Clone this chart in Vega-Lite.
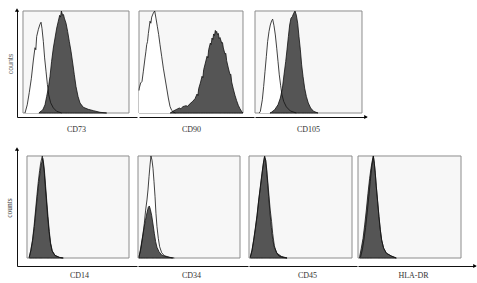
{
"$schema": "https://vega.github.io/schema/vega-lite/v6.json",
"background": "#ffffff",
"padding": {"left": 5, "top": 8, "right": 0, "bottom": 0},
"config": {
  "view": {"stroke": null},
  "axis": {"grid": false, "ticks": false, "labels": false, "domainColor": "#111111", "domainWidth": 1, "titleFont": "Liberation Serif", "titleFontSize": 8, "titleFontWeight": "normal", "titleColor": "#333333"}
},
"datasets": {
  "CD73_iso": [{"intensity":1.9,"count":0},{"intensity":4.0,"count":0.08},{"intensity":5.9,"count":0.2},{"intensity":7.9,"count":0.34},{"intensity":9.7,"count":0.51},{"intensity":11.3,"count":0.64},{"intensity":12.1,"count":0.62},{"intensity":12.9,"count":0.75},{"intensity":14.5,"count":0.82},{"intensity":16.0,"count":0.87},{"intensity":17.0,"count":0.89},{"intensity":17.9,"count":0.83},{"intensity":19.2,"count":0.7},{"intensity":20.4,"count":0.54},{"intensity":21.7,"count":0.41},{"intensity":23.0,"count":0.28},{"intensity":24.2,"count":0.18},{"intensity":26.1,"count":0.1},{"intensity":28.6,"count":0.05},{"intensity":31.8,"count":0.016},{"intensity":36.5,"count":0}],
  "CD73_pos": [{"intensity":15,"count":0},{"intensity":16.0,"count":0.01},{"intensity":18.6,"count":0.03},{"intensity":20.75,"count":0.08},{"intensity":22.3,"count":0.16},{"intensity":23.9,"count":0.245},{"intensity":25.5,"count":0.36},{"intensity":27.0,"count":0.507},{"intensity":28.6,"count":0.637},{"intensity":30.2,"count":0.735},{"intensity":31.8,"count":0.833},{"intensity":33.3,"count":0.9},{"intensity":34.6,"count":0.958},{"intensity":35.4,"count":0.94},{"intensity":36.2,"count":1.0},{"intensity":37.4,"count":0.958},{"intensity":38.2,"count":0.965},{"intensity":39.0,"count":0.93},{"intensity":40.6,"count":0.88},{"intensity":42.1,"count":0.8},{"intensity":43.7,"count":0.7},{"intensity":45.3,"count":0.605},{"intensity":46.9,"count":0.49},{"intensity":48.4,"count":0.376},{"intensity":50.0,"count":0.26},{"intensity":51.9,"count":0.163},{"intensity":53.8,"count":0.098},{"intensity":56.9,"count":0.056},{"intensity":61.6,"count":0.036},{"intensity":66.4,"count":0.023},{"intensity":72.6,"count":0.007},{"intensity":78.9,"count":0}],
  "CD90_iso": [{"intensity":0,"count":0.22},{"intensity":0.3,"count":0.245},{"intensity":1.6,"count":0.294},{"intensity":2.9,"count":0.31},{"intensity":4.2,"count":0.41},{"intensity":5.8,"count":0.54},{"intensity":6.6,"count":0.6},{"intensity":7.4,"count":0.67},{"intensity":8.2,"count":0.7},{"intensity":9.0,"count":0.78},{"intensity":10.6,"count":0.9},{"intensity":11.4,"count":0.88},{"intensity":12.2,"count":0.94},{"intensity":13.8,"count":0.98},{"intensity":15.1,"count":1.0},{"intensity":16.3,"count":0.93},{"intensity":17.6,"count":0.85},{"intensity":18.9,"count":0.77},{"intensity":20.2,"count":0.67},{"intensity":21.8,"count":0.556},{"intensity":23.4,"count":0.44},{"intensity":25.0,"count":0.343},{"intensity":26.6,"count":0.245},{"intensity":28.2,"count":0.147},{"intensity":29.8,"count":0.065},{"intensity":31.4,"count":0.026},{"intensity":33.0,"count":0.01},{"intensity":35.0,"count":0}],
  "CD90_pos": [{"intensity":30,"count":0},{"intensity":32.4,"count":0.016},{"intensity":35.6,"count":0.033},{"intensity":38.8,"count":0.049},{"intensity":40.4,"count":0.04},{"intensity":42.0,"count":0.062},{"intensity":45.2,"count":0.072},{"intensity":46.8,"count":0.065},{"intensity":48.4,"count":0.085},{"intensity":51.6,"count":0.114},{"intensity":53.85,"count":0.14},{"intensity":55.8,"count":0.186},{"intensity":56.6,"count":0.17},{"intensity":57.4,"count":0.239},{"intensity":59.0,"count":0.294},{"intensity":60.6,"count":0.36},{"intensity":61.4,"count":0.345},{"intensity":62.2,"count":0.425},{"intensity":63.8,"count":0.49},{"intensity":65.4,"count":0.556},{"intensity":66.2,"count":0.54},{"intensity":67.0,"count":0.621},{"intensity":68.6,"count":0.686},{"intensity":69.4,"count":0.67},{"intensity":70.2,"count":0.735},{"intensity":71.0,"count":0.72},{"intensity":71.8,"count":0.775},{"intensity":72.6,"count":0.76},{"intensity":73.4,"count":0.81},{"intensity":74.0,"count":0.79},{"intensity":74.7,"count":0.8},{"intensity":75.5,"count":0.77},{"intensity":76.3,"count":0.78},{"intensity":77.1,"count":0.73},{"intensity":77.9,"count":0.74},{"intensity":79.5,"count":0.686},{"intensity":80.3,"count":0.69},{"intensity":81.1,"count":0.637},{"intensity":82.7,"count":0.578},{"intensity":83.5,"count":0.585},{"intensity":84.3,"count":0.513},{"intensity":85.9,"count":0.441},{"intensity":87.5,"count":0.376},{"intensity":88.3,"count":0.38},{"intensity":89.1,"count":0.304},{"intensity":90.7,"count":0.235},{"intensity":92.3,"count":0.173},{"intensity":93.9,"count":0.121},{"intensity":95.5,"count":0.075},{"intensity":97.1,"count":0.042},{"intensity":99.0,"count":0.01},{"intensity":100,"count":0}],
  "CD105_iso": [{"intensity":4,"count":0},{"intensity":5.0,"count":0.016},{"intensity":6.85,"count":0.13},{"intensity":8.1,"count":0.26},{"intensity":9.35,"count":0.407},{"intensity":10.6,"count":0.553},{"intensity":11.8,"count":0.7},{"intensity":13.1,"count":0.8},{"intensity":14.3,"count":0.863},{"intensity":15.6,"count":0.905},{"intensity":16.5,"count":0.92},{"intensity":17.76,"count":0.855},{"intensity":19.0,"count":0.765},{"intensity":20.3,"count":0.635},{"intensity":21.5,"count":0.505},{"intensity":22.7,"count":0.374},{"intensity":24.0,"count":0.267},{"intensity":25.2,"count":0.179},{"intensity":26.8,"count":0.114},{"intensity":29.3,"count":0.06},{"intensity":33.0,"count":0.02},{"intensity":38.6,"count":0}],
  "CD105_pos": [{"intensity":14,"count":0},{"intensity":15.3,"count":0.007},{"intensity":18.4,"count":0.032},{"intensity":21.5,"count":0.081},{"intensity":23.7,"count":0.147},{"intensity":25.6,"count":0.244},{"intensity":27.1,"count":0.374},{"intensity":28.7,"count":0.505},{"intensity":29.9,"count":0.619},{"intensity":31.2,"count":0.749},{"intensity":32.4,"count":0.863},{"intensity":33.6,"count":0.928},{"intensity":34.9,"count":0.945},{"intensity":36.1,"count":0.977},{"intensity":37.4,"count":1.0},{"intensity":38.6,"count":0.96},{"intensity":39.9,"count":0.88},{"intensity":41.1,"count":0.749},{"intensity":42.4,"count":0.619},{"intensity":43.6,"count":0.472},{"intensity":44.9,"count":0.358},{"intensity":46.4,"count":0.244},{"intensity":48.0,"count":0.163},{"intensity":49.8,"count":0.098},{"intensity":52.0,"count":0.049},{"intensity":54.8,"count":0.016},{"intensity":58.9,"count":0}],
  "CD14_iso": [{"intensity":2.0,"count":0.005},{"intensity":3.6,"count":0.07},{"intensity":5.3,"count":0.17},{"intensity":6.9,"count":0.31},{"intensity":8.5,"count":0.48},{"intensity":9.8,"count":0.62},{"intensity":11.1,"count":0.75},{"intensity":12.4,"count":0.86},{"intensity":13.4,"count":0.93},{"intensity":14.3,"count":0.97},{"intensity":15.0,"count":1.0},{"intensity":15.8,"count":0.95},{"intensity":16.8,"count":0.86},{"intensity":17.8,"count":0.72},{"intensity":18.9,"count":0.58},{"intensity":20.2,"count":0.41},{"intensity":21.6,"count":0.26},{"intensity":22.9,"count":0.15},{"intensity":24.6,"count":0.07},{"intensity":27.3,"count":0.025},{"intensity":31.5,"count":0.006},{"intensity":35,"count":0}],
  "CD14_pos": [{"intensity":2.3,"count":0.007},{"intensity":3.9,"count":0.078},{"intensity":5.6,"count":0.176},{"intensity":7.2,"count":0.307},{"intensity":8.8,"count":0.47},{"intensity":10.1,"count":0.6},{"intensity":11.4,"count":0.73},{"intensity":12.7,"count":0.83},{"intensity":13.7,"count":0.902},{"intensity":14.7,"count":0.944},{"intensity":15.4,"count":0.977},{"intensity":16.3,"count":0.928},{"intensity":17.3,"count":0.83},{"intensity":18.3,"count":0.699},{"intensity":19.3,"count":0.569},{"intensity":20.6,"count":0.405},{"intensity":21.9,"count":0.258},{"intensity":23.2,"count":0.144},{"intensity":24.8,"count":0.069},{"intensity":27.5,"count":0.026},{"intensity":31.7,"count":0.007},{"intensity":35.6,"count":0}],
  "CD34_iso": [{"intensity":1.0,"count":0.013},{"intensity":2.9,"count":0.095},{"intensity":4.6,"count":0.21},{"intensity":6.2,"count":0.34},{"intensity":7.5,"count":0.47},{"intensity":8.8,"count":0.569},{"intensity":9.8,"count":0.667},{"intensity":10.8,"count":0.797},{"intensity":11.8,"count":0.912},{"intensity":12.7,"count":1.0},{"intensity":13.7,"count":0.96},{"intensity":14.7,"count":0.88},{"intensity":15.7,"count":0.748},{"intensity":16.7,"count":0.601},{"intensity":17.6,"count":0.438},{"intensity":18.6,"count":0.307},{"intensity":19.9,"count":0.193},{"intensity":21.2,"count":0.111},{"intensity":23.2,"count":0.052},{"intensity":25.8,"count":0.023},{"intensity":30.7,"count":0.007},{"intensity":35.6,"count":0}],
  "CD34_pos": [{"intensity":1.0,"count":0.007},{"intensity":2.3,"count":0.078},{"intensity":3.9,"count":0.176},{"intensity":5.6,"count":0.275},{"intensity":7.2,"count":0.366},{"intensity":8.8,"count":0.444},{"intensity":10.1,"count":0.497},{"intensity":11.1,"count":0.51},{"intensity":12.1,"count":0.477},{"intensity":13.4,"count":0.418},{"intensity":14.7,"count":0.333},{"intensity":16.0,"count":0.242},{"intensity":17.3,"count":0.16},{"intensity":18.6,"count":0.105},{"intensity":20.6,"count":0.062},{"intensity":23.2,"count":0.029},{"intensity":27.5,"count":0.013},{"intensity":34,"count":0}],
  "CD45_iso": [{"intensity":1.3,"count":0.01},{"intensity":2.9,"count":0.07},{"intensity":4.5,"count":0.17},{"intensity":6.1,"count":0.28},{"intensity":7.8,"count":0.41},{"intensity":9.4,"count":0.56},{"intensity":11.0,"count":0.69},{"intensity":12.6,"count":0.82},{"intensity":13.9,"count":0.92},{"intensity":15.0,"count":0.99},{"intensity":16.2,"count":0.96},{"intensity":17.2,"count":0.87},{"intensity":18.3,"count":0.74},{"intensity":19.4,"count":0.61},{"intensity":20.6,"count":0.47},{"intensity":21.9,"count":0.36},{"intensity":23.0,"count":0.24},{"intensity":24.6,"count":0.12},{"intensity":26.6,"count":0.055},{"intensity":29,"count":0.02},{"intensity":33,"count":0.005},{"intensity":37,"count":0}],
  "CD45_pos": [{"intensity":1.3,"count":0.013},{"intensity":2.9,"count":0.078},{"intensity":4.5,"count":0.176},{"intensity":6.1,"count":0.291},{"intensity":7.8,"count":0.42},{"intensity":9.4,"count":0.569},{"intensity":11.0,"count":0.699},{"intensity":12.6,"count":0.83},{"intensity":13.9,"count":0.928},{"intensity":15.2,"count":1.0},{"intensity":16.2,"count":0.954},{"intensity":17.1,"count":0.856},{"intensity":18.1,"count":0.732},{"intensity":19.1,"count":0.601},{"intensity":20.4,"count":0.438},{"intensity":21.7,"count":0.301},{"intensity":23.0,"count":0.183},{"intensity":24.6,"count":0.105},{"intensity":27.2,"count":0.046},{"intensity":31.4,"count":0.016},{"intensity":36.9,"count":0}],
  "HLADR_iso": [{"intensity":2.5,"count":0.01},{"intensity":4.2,"count":0.08},{"intensity":5.8,"count":0.18},{"intensity":7.4,"count":0.3},{"intensity":9.0,"count":0.45},{"intensity":10.5,"count":0.6},{"intensity":11.9,"count":0.75},{"intensity":13.1,"count":0.87},{"intensity":14.2,"count":0.96},{"intensity":14.9,"count":1.0},{"intensity":15.8,"count":0.93},{"intensity":16.7,"count":0.84},{"intensity":17.7,"count":0.71},{"intensity":19.0,"count":0.56},{"intensity":20.3,"count":0.41},{"intensity":21.6,"count":0.28},{"intensity":22.9,"count":0.18},{"intensity":24.8,"count":0.1},{"intensity":27.4,"count":0.05},{"intensity":32,"count":0.02},{"intensity":37,"count":0}],
  "HLADR_pos": [{"intensity":1.6,"count":0.013},{"intensity":3.2,"count":0.095},{"intensity":4.9,"count":0.193},{"intensity":6.5,"count":0.324},{"intensity":8.1,"count":0.47},{"intensity":9.7,"count":0.634},{"intensity":11.3,"count":0.781},{"intensity":12.6,"count":0.879},{"intensity":13.9,"count":0.954},{"intensity":14.9,"count":1.0},{"intensity":15.9,"count":0.928},{"intensity":16.8,"count":0.83},{"intensity":17.8,"count":0.699},{"intensity":19.1,"count":0.552},{"intensity":20.4,"count":0.405},{"intensity":21.7,"count":0.275},{"intensity":22.98,"count":0.176},{"intensity":24.9,"count":0.095},{"intensity":27.5,"count":0.046},{"intensity":32.4,"count":0.02},{"intensity":37.2,"count":0}]
},
"vconcat": [
 {"hconcat": [
  {"width": 120, "height": 107,
   "layer": [
     {"data": {"values": [{"box": "panel"}]}, "mark": {"type": "rect", "fill": "#f7f7f7", "stroke": "#8c8c8c", "strokeWidth": 1},
      "encoding": {"x": {"datum": 0, "type": "quantitative", "scale": {"domain": [-5.66, 107.55], "nice": false, "zero": false}, "axis": {"title": "CD73", "titleX": 59, "titlePadding": 8, "titleColor": "#333333"}}, "x2": {"datum": 100},
                   "y": {"datum": 0, "type": "quantitative", "scale": {"domain": [-0.0392, 1.0098], "nice": false, "zero": false}, "axis": {"title": "counts", "titlePadding": 4, "titleFont": "Liberation Sans", "titleFontSize": 7, "titleColor": "#666666"}}, "y2": {"datum": 1}}},
     {"data": {"name": "CD73_iso"}, "mark": {"type": "area", "fill": "#ffffff"},
      "encoding": {"x": {"field": "intensity", "type": "quantitative", "scale": {"domain": [-5.66, 107.55], "nice": false, "zero": false}, "axis": {"title": "CD73", "titleX": 59, "titlePadding": 8, "titleColor": "#333333"}},
                   "y": {"field": "count", "type": "quantitative", "scale": {"domain": [-0.0392, 1.0098], "nice": false, "zero": false}, "axis": {"title": "counts", "titlePadding": 4, "titleFont": "Liberation Sans", "titleFontSize": 7, "titleColor": "#666666"}}}},
     {"data": {"name": "CD73_pos"}, "mark": {"type": "area", "fill": "#555555", "stroke": "#111111", "strokeWidth": 0.8},
      "encoding": {"x": {"field": "intensity", "type": "quantitative", "scale": {"domain": [-5.66, 107.55], "nice": false, "zero": false}, "axis": {"title": "CD73", "titleX": 59, "titlePadding": 8, "titleColor": "#333333"}},
                   "y": {"field": "count", "type": "quantitative", "scale": {"domain": [-0.0392, 1.0098], "nice": false, "zero": false}, "axis": {"title": "counts", "titlePadding": 4, "titleFont": "Liberation Sans", "titleFontSize": 7, "titleColor": "#666666"}}}},
     {"data": {"name": "CD73_iso"}, "mark": {"type": "line", "stroke": "#111111", "strokeWidth": 0.8},
      "encoding": {"x": {"field": "intensity", "type": "quantitative", "scale": {"domain": [-5.66, 107.55], "nice": false, "zero": false}, "axis": {"title": "CD73", "titleX": 59, "titlePadding": 8, "titleColor": "#333333"}},
                   "y": {"field": "count", "type": "quantitative", "scale": {"domain": [-0.0392, 1.0098], "nice": false, "zero": false}, "axis": {"title": "counts", "titlePadding": 4, "titleFont": "Liberation Sans", "titleFontSize": 7, "titleColor": "#666666"}}}},
     {"data": {"values": [{"arrow": "up"}]}, "mark": {"type": "point", "shape": "triangle-up", "filled": true, "color": "#000000", "opacity": 1, "size": 18},
      "encoding": {"x": {"datum": -5.66, "type": "quantitative", "scale": {"domain": [-5.66, 107.55], "nice": false, "zero": false}, "axis": {"title": "CD73", "titleX": 59, "titlePadding": 8, "titleColor": "#333333"}},
                   "y": {"datum": 1.0098, "type": "quantitative", "scale": {"domain": [-0.0392, 1.0098], "nice": false, "zero": false}, "axis": {"title": "counts", "titlePadding": 4, "titleFont": "Liberation Sans", "titleFontSize": 7, "titleColor": "#666666"}}}}
   ]},
  {"width": 115, "height": 107,
   "layer": [
     {"data": {"values": [{"box": "panel"}]}, "mark": {"type": "rect", "fill": "#f7f7f7", "stroke": "#8c8c8c", "strokeWidth": 1},
      "encoding": {"x": {"datum": 0, "type": "quantitative", "scale": {"domain": [0, 110.58], "nice": false, "zero": false}, "axis": {"title": "CD90", "titleX": 52, "titlePadding": 8, "titleColor": "#333333"}}, "x2": {"datum": 100},
                   "y": {"datum": 0, "type": "quantitative", "scale": {"domain": [-0.0392, 1.0098], "nice": false, "zero": false}, "axis": null}, "y2": {"datum": 1}}},
     {"data": {"name": "CD90_iso"}, "mark": {"type": "area", "fill": "#ffffff"},
      "encoding": {"x": {"field": "intensity", "type": "quantitative", "scale": {"domain": [0, 110.58], "nice": false, "zero": false}, "axis": {"title": "CD90", "titleX": 52, "titlePadding": 8, "titleColor": "#333333"}},
                   "y": {"field": "count", "type": "quantitative", "scale": {"domain": [-0.0392, 1.0098], "nice": false, "zero": false}, "axis": null}}},
     {"data": {"name": "CD90_pos"}, "mark": {"type": "area", "fill": "#555555", "stroke": "#111111", "strokeWidth": 0.8},
      "encoding": {"x": {"field": "intensity", "type": "quantitative", "scale": {"domain": [0, 110.58], "nice": false, "zero": false}, "axis": {"title": "CD90", "titleX": 52, "titlePadding": 8, "titleColor": "#333333"}},
                   "y": {"field": "count", "type": "quantitative", "scale": {"domain": [-0.0392, 1.0098], "nice": false, "zero": false}, "axis": null}}},
     {"data": {"name": "CD90_iso"}, "mark": {"type": "line", "stroke": "#111111", "strokeWidth": 0.8},
      "encoding": {"x": {"field": "intensity", "type": "quantitative", "scale": {"domain": [0, 110.58], "nice": false, "zero": false}, "axis": {"title": "CD90", "titleX": 52, "titlePadding": 8, "titleColor": "#333333"}},
                   "y": {"field": "count", "type": "quantitative", "scale": {"domain": [-0.0392, 1.0098], "nice": false, "zero": false}, "axis": null}}}
   ]},
  {"width": 111, "height": 107,
   "layer": [
     {"data": {"values": [{"box": "panel"}]}, "mark": {"type": "rect", "fill": "#f7f7f7", "stroke": "#8c8c8c", "strokeWidth": 1},
      "encoding": {"x": {"datum": 0, "type": "quantitative", "scale": {"domain": [0, 103.74], "nice": false, "zero": false}, "axis": {"title": "CD105", "titleX": 53, "titlePadding": 8, "titleColor": "#333333"}}, "x2": {"datum": 100},
                   "y": {"datum": 0, "type": "quantitative", "scale": {"domain": [-0.0392, 1.0098], "nice": false, "zero": false}, "axis": null}, "y2": {"datum": 1}}},
     {"data": {"name": "CD105_iso"}, "mark": {"type": "area", "fill": "#ffffff"},
      "encoding": {"x": {"field": "intensity", "type": "quantitative", "scale": {"domain": [0, 103.74], "nice": false, "zero": false}, "axis": {"title": "CD105", "titleX": 53, "titlePadding": 8, "titleColor": "#333333"}},
                   "y": {"field": "count", "type": "quantitative", "scale": {"domain": [-0.0392, 1.0098], "nice": false, "zero": false}, "axis": null}}},
     {"data": {"name": "CD105_pos"}, "mark": {"type": "area", "fill": "#555555", "stroke": "#111111", "strokeWidth": 0.8},
      "encoding": {"x": {"field": "intensity", "type": "quantitative", "scale": {"domain": [0, 103.74], "nice": false, "zero": false}, "axis": {"title": "CD105", "titleX": 53, "titlePadding": 8, "titleColor": "#333333"}},
                   "y": {"field": "count", "type": "quantitative", "scale": {"domain": [-0.0392, 1.0098], "nice": false, "zero": false}, "axis": null}}},
     {"data": {"name": "CD105_iso"}, "mark": {"type": "line", "stroke": "#111111", "strokeWidth": 0.8},
      "encoding": {"x": {"field": "intensity", "type": "quantitative", "scale": {"domain": [0, 103.74], "nice": false, "zero": false}, "axis": {"title": "CD105", "titleX": 53, "titlePadding": 8, "titleColor": "#333333"}},
                   "y": {"field": "count", "type": "quantitative", "scale": {"domain": [-0.0392, 1.0098], "nice": false, "zero": false}, "axis": null}}},
     {"data": {"values": [{"arrow": "right"}]}, "mark": {"type": "point", "shape": "triangle-right", "filled": true, "color": "#000000", "opacity": 1, "size": 18},
      "encoding": {"x": {"datum": 103.74, "type": "quantitative", "scale": {"domain": [0, 103.74], "nice": false, "zero": false}, "axis": {"title": "CD105", "titleX": 53, "titlePadding": 8, "titleColor": "#333333"}},
                   "y": {"datum": -0.0392, "type": "quantitative", "scale": {"domain": [-0.0392, 1.0098], "nice": false, "zero": false}, "axis": null}}}
   ]}
 ], "spacing": 0},
 {"hconcat": [
  {"width": 120, "height": 117,
   "layer": [
     {"data": {"values": [{"box": "panel"}]}, "mark": {"type": "rect", "fill": "#f7f7f7", "stroke": "#8c8c8c", "strokeWidth": 1},
      "encoding": {"x": {"datum": 0, "type": "quantitative", "scale": {"domain": [-9.8, 107.84], "nice": false, "zero": false}, "axis": {"title": "CD14", "titleX": 62, "titlePadding": 5, "titleColor": "#333333"}}, "x2": {"datum": 100},
                   "y": {"datum": 0, "type": "quantitative", "scale": {"domain": [-0.0784, 1.0686], "nice": false, "zero": false}, "axis": {"title": "counts", "titlePadding": 4, "titleFontSize": 7.5, "titleColor": "#444444"}}, "y2": {"datum": 1}}},
     {"data": {"name": "CD14_iso"}, "mark": {"type": "area", "fill": "#ffffff"},
      "encoding": {"x": {"field": "intensity", "type": "quantitative", "scale": {"domain": [-9.8, 107.84], "nice": false, "zero": false}, "axis": {"title": "CD14", "titleX": 62, "titlePadding": 5, "titleColor": "#333333"}},
                   "y": {"field": "count", "type": "quantitative", "scale": {"domain": [-0.0784, 1.0686], "nice": false, "zero": false}, "axis": {"title": "counts", "titlePadding": 4, "titleFontSize": 7.5, "titleColor": "#444444"}}}},
     {"data": {"name": "CD14_pos"}, "mark": {"type": "area", "fill": "#555555", "stroke": "#111111", "strokeWidth": 0.8},
      "encoding": {"x": {"field": "intensity", "type": "quantitative", "scale": {"domain": [-9.8, 107.84], "nice": false, "zero": false}, "axis": {"title": "CD14", "titleX": 62, "titlePadding": 5, "titleColor": "#333333"}},
                   "y": {"field": "count", "type": "quantitative", "scale": {"domain": [-0.0784, 1.0686], "nice": false, "zero": false}, "axis": {"title": "counts", "titlePadding": 4, "titleFontSize": 7.5, "titleColor": "#444444"}}}},
     {"data": {"name": "CD14_iso"}, "mark": {"type": "line", "stroke": "#111111", "strokeWidth": 0.8},
      "encoding": {"x": {"field": "intensity", "type": "quantitative", "scale": {"domain": [-9.8, 107.84], "nice": false, "zero": false}, "axis": {"title": "CD14", "titleX": 62, "titlePadding": 5, "titleColor": "#333333"}},
                   "y": {"field": "count", "type": "quantitative", "scale": {"domain": [-0.0784, 1.0686], "nice": false, "zero": false}, "axis": {"title": "counts", "titlePadding": 4, "titleFontSize": 7.5, "titleColor": "#444444"}}}},
     {"data": {"values": [{"arrow": "up"}]}, "mark": {"type": "point", "shape": "triangle-up", "filled": true, "color": "#000000", "opacity": 1, "size": 18},
      "encoding": {"x": {"datum": -9.8, "type": "quantitative", "scale": {"domain": [-9.8, 107.84], "nice": false, "zero": false}, "axis": {"title": "CD14", "titleX": 62, "titlePadding": 5, "titleColor": "#333333"}},
                   "y": {"datum": 1.0686, "type": "quantitative", "scale": {"domain": [-0.0784, 1.0686], "nice": false, "zero": false}, "axis": {"title": "counts", "titlePadding": 4, "titleFontSize": 7.5, "titleColor": "#444444"}}}}
   ]},
  {"width": 110, "height": 117,
   "layer": [
     {"data": {"values": [{"box": "panel"}]}, "mark": {"type": "rect", "fill": "#f7f7f7", "stroke": "#8c8c8c", "strokeWidth": 1},
      "encoding": {"x": {"datum": 0, "type": "quantitative", "scale": {"domain": [0, 107.84], "nice": false, "zero": false}, "axis": {"title": "CD34", "titleX": 53, "titlePadding": 5, "titleColor": "#333333"}}, "x2": {"datum": 100},
                   "y": {"datum": 0, "type": "quantitative", "scale": {"domain": [-0.0784, 1.0686], "nice": false, "zero": false}, "axis": null}, "y2": {"datum": 1}}},
     {"data": {"name": "CD34_iso"}, "mark": {"type": "area", "fill": "#ffffff"},
      "encoding": {"x": {"field": "intensity", "type": "quantitative", "scale": {"domain": [0, 107.84], "nice": false, "zero": false}, "axis": {"title": "CD34", "titleX": 53, "titlePadding": 5, "titleColor": "#333333"}},
                   "y": {"field": "count", "type": "quantitative", "scale": {"domain": [-0.0784, 1.0686], "nice": false, "zero": false}, "axis": null}}},
     {"data": {"name": "CD34_pos"}, "mark": {"type": "area", "fill": "#555555", "stroke": "#111111", "strokeWidth": 0.8},
      "encoding": {"x": {"field": "intensity", "type": "quantitative", "scale": {"domain": [0, 107.84], "nice": false, "zero": false}, "axis": {"title": "CD34", "titleX": 53, "titlePadding": 5, "titleColor": "#333333"}},
                   "y": {"field": "count", "type": "quantitative", "scale": {"domain": [-0.0784, 1.0686], "nice": false, "zero": false}, "axis": null}}},
     {"data": {"name": "CD34_iso"}, "mark": {"type": "line", "stroke": "#111111", "strokeWidth": 0.8},
      "encoding": {"x": {"field": "intensity", "type": "quantitative", "scale": {"domain": [0, 107.84], "nice": false, "zero": false}, "axis": {"title": "CD34", "titleX": 53, "titlePadding": 5, "titleColor": "#333333"}},
                   "y": {"field": "count", "type": "quantitative", "scale": {"domain": [-0.0784, 1.0686], "nice": false, "zero": false}, "axis": null}}}
   ]},
  {"width": 108, "height": 117,
   "layer": [
     {"data": {"values": [{"box": "panel"}]}, "mark": {"type": "rect", "fill": "#f7f7f7", "stroke": "#8c8c8c", "strokeWidth": 1},
      "encoding": {"x": {"datum": 0, "type": "quantitative", "scale": {"domain": [0, 104.85], "nice": false, "zero": false}, "axis": {"title": "CD45", "titleX": 58, "titlePadding": 5, "titleColor": "#333333"}}, "x2": {"datum": 100},
                   "y": {"datum": 0, "type": "quantitative", "scale": {"domain": [-0.0784, 1.0686], "nice": false, "zero": false}, "axis": null}, "y2": {"datum": 1}}},
     {"data": {"name": "CD45_iso"}, "mark": {"type": "area", "fill": "#ffffff"},
      "encoding": {"x": {"field": "intensity", "type": "quantitative", "scale": {"domain": [0, 104.85], "nice": false, "zero": false}, "axis": {"title": "CD45", "titleX": 58, "titlePadding": 5, "titleColor": "#333333"}},
                   "y": {"field": "count", "type": "quantitative", "scale": {"domain": [-0.0784, 1.0686], "nice": false, "zero": false}, "axis": null}}},
     {"data": {"name": "CD45_pos"}, "mark": {"type": "area", "fill": "#555555", "stroke": "#111111", "strokeWidth": 0.8},
      "encoding": {"x": {"field": "intensity", "type": "quantitative", "scale": {"domain": [0, 104.85], "nice": false, "zero": false}, "axis": {"title": "CD45", "titleX": 58, "titlePadding": 5, "titleColor": "#333333"}},
                   "y": {"field": "count", "type": "quantitative", "scale": {"domain": [-0.0784, 1.0686], "nice": false, "zero": false}, "axis": null}}},
     {"data": {"name": "CD45_iso"}, "mark": {"type": "line", "stroke": "#111111", "strokeWidth": 0.8},
      "encoding": {"x": {"field": "intensity", "type": "quantitative", "scale": {"domain": [0, 104.85], "nice": false, "zero": false}, "axis": {"title": "CD45", "titleX": 58, "titlePadding": 5, "titleColor": "#333333"}},
                   "y": {"field": "count", "type": "quantitative", "scale": {"domain": [-0.0784, 1.0686], "nice": false, "zero": false}, "axis": null}}}
   ]},
  {"width": 117, "height": 117,
   "layer": [
     {"data": {"values": [{"box": "panel"}]}, "mark": {"type": "rect", "fill": "#f7f7f7", "stroke": "#8c8c8c", "strokeWidth": 1},
      "encoding": {"x": {"datum": 0, "type": "quantitative", "scale": {"domain": [0, 113.59], "nice": false, "zero": false}, "axis": {"title": "HLA-DR", "titleX": 55, "titlePadding": 5, "titleColor": "#333333"}}, "x2": {"datum": 100},
                   "y": {"datum": 0, "type": "quantitative", "scale": {"domain": [-0.0784, 1.0686], "nice": false, "zero": false}, "axis": null}, "y2": {"datum": 1}}},
     {"data": {"name": "HLADR_iso"}, "mark": {"type": "area", "fill": "#ffffff"},
      "encoding": {"x": {"field": "intensity", "type": "quantitative", "scale": {"domain": [0, 113.59], "nice": false, "zero": false}, "axis": {"title": "HLA-DR", "titleX": 55, "titlePadding": 5, "titleColor": "#333333"}},
                   "y": {"field": "count", "type": "quantitative", "scale": {"domain": [-0.0784, 1.0686], "nice": false, "zero": false}, "axis": null}}},
     {"data": {"name": "HLADR_pos"}, "mark": {"type": "area", "fill": "#555555", "stroke": "#111111", "strokeWidth": 0.8},
      "encoding": {"x": {"field": "intensity", "type": "quantitative", "scale": {"domain": [0, 113.59], "nice": false, "zero": false}, "axis": {"title": "HLA-DR", "titleX": 55, "titlePadding": 5, "titleColor": "#333333"}},
                   "y": {"field": "count", "type": "quantitative", "scale": {"domain": [-0.0784, 1.0686], "nice": false, "zero": false}, "axis": null}}},
     {"data": {"name": "HLADR_iso"}, "mark": {"type": "line", "stroke": "#111111", "strokeWidth": 0.8},
      "encoding": {"x": {"field": "intensity", "type": "quantitative", "scale": {"domain": [0, 113.59], "nice": false, "zero": false}, "axis": {"title": "HLA-DR", "titleX": 55, "titlePadding": 5, "titleColor": "#333333"}},
                   "y": {"field": "count", "type": "quantitative", "scale": {"domain": [-0.0784, 1.0686], "nice": false, "zero": false}, "axis": null}}},
     {"data": {"values": [{"arrow": "right"}]}, "mark": {"type": "point", "shape": "triangle-right", "filled": true, "color": "#000000", "opacity": 1, "size": 18},
      "encoding": {"x": {"datum": 113.59, "type": "quantitative", "scale": {"domain": [0, 113.59], "nice": false, "zero": false}, "axis": {"title": "HLA-DR", "titleX": 55, "titlePadding": 5, "titleColor": "#333333"}},
                   "y": {"datum": -0.0784, "type": "quantitative", "scale": {"domain": [-0.0784, 1.0686], "nice": false, "zero": false}, "axis": null}}}
   ]}
 ], "spacing": 0}
],
"spacing": 14
}
